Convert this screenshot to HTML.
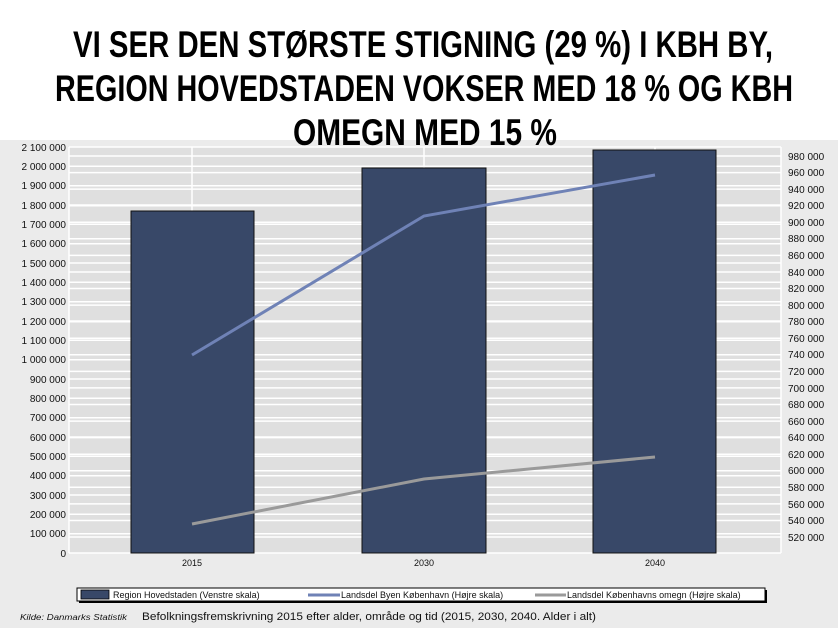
<!DOCTYPE html>
<html><head><meta charset="utf-8"><style>
html,body{margin:0;padding:0;background:#fff;}
svg{display:block;}
</style></head><body>
<svg width="838" height="628" xmlns="http://www.w3.org/2000/svg" font-family="Liberation Sans, Arial, sans-serif">
<rect x="0" y="0" width="838" height="628" fill="#fff"/>
<rect x="0" y="140" width="838" height="488" fill="#ebebeb"/>
<rect x="69" y="147" width="712" height="406" fill="#dfdfdf"/>
<g stroke="#fff" stroke-width="1.5">
<line x1="69" x2="781" y1="147" y2="147"/><line x1="69" x2="781" y1="166.3" y2="166.3"/><line x1="69" x2="781" y1="185.7" y2="185.7"/><line x1="69" x2="781" y1="205" y2="205"/><line x1="69" x2="781" y1="224.3" y2="224.3"/><line x1="69" x2="781" y1="243.7" y2="243.7"/><line x1="69" x2="781" y1="263" y2="263"/><line x1="69" x2="781" y1="282.3" y2="282.3"/><line x1="69" x2="781" y1="301.7" y2="301.7"/><line x1="69" x2="781" y1="321" y2="321"/><line x1="69" x2="781" y1="340.3" y2="340.3"/><line x1="69" x2="781" y1="359.7" y2="359.7"/><line x1="69" x2="781" y1="379" y2="379"/><line x1="69" x2="781" y1="398.3" y2="398.3"/><line x1="69" x2="781" y1="417.7" y2="417.7"/><line x1="69" x2="781" y1="437" y2="437"/><line x1="69" x2="781" y1="456.3" y2="456.3"/><line x1="69" x2="781" y1="475.7" y2="475.7"/><line x1="69" x2="781" y1="495" y2="495"/><line x1="69" x2="781" y1="514.3" y2="514.3"/><line x1="69" x2="781" y1="533.7" y2="533.7"/>
<line x1="69" x2="781" y1="156" y2="156"/><line x1="69" x2="781" y1="172.6" y2="172.6"/><line x1="69" x2="781" y1="189.1" y2="189.1"/><line x1="69" x2="781" y1="205.7" y2="205.7"/><line x1="69" x2="781" y1="222.3" y2="222.3"/><line x1="69" x2="781" y1="238.8" y2="238.8"/><line x1="69" x2="781" y1="255.4" y2="255.4"/><line x1="69" x2="781" y1="272" y2="272"/><line x1="69" x2="781" y1="288.5" y2="288.5"/><line x1="69" x2="781" y1="305.1" y2="305.1"/><line x1="69" x2="781" y1="321.7" y2="321.7"/><line x1="69" x2="781" y1="338.2" y2="338.2"/><line x1="69" x2="781" y1="354.8" y2="354.8"/><line x1="69" x2="781" y1="371.4" y2="371.4"/><line x1="69" x2="781" y1="387.9" y2="387.9"/><line x1="69" x2="781" y1="404.5" y2="404.5"/><line x1="69" x2="781" y1="421.1" y2="421.1"/><line x1="69" x2="781" y1="437.6" y2="437.6"/><line x1="69" x2="781" y1="454.2" y2="454.2"/><line x1="69" x2="781" y1="470.8" y2="470.8"/><line x1="69" x2="781" y1="487.3" y2="487.3"/><line x1="69" x2="781" y1="503.9" y2="503.9"/><line x1="69" x2="781" y1="520.5" y2="520.5"/><line x1="69" x2="781" y1="537" y2="537"/>
<line x1="192" x2="192" y1="147" y2="553"/><line x1="424" x2="424" y1="147" y2="553"/><line x1="655" x2="655" y1="147" y2="553"/>
<line x1="69" x2="69" y1="147" y2="553"/><line x1="781" x2="781" y1="147" y2="553"/><line x1="69" x2="781" y1="553" y2="553"/>
</g>
<g fill="#384868" stroke="#111" stroke-width="1">
<rect x="131" y="211" width="123" height="342"/>
<rect x="362" y="168" width="124" height="385"/>
<rect x="593" y="150" width="123" height="403"/>
</g>
<polyline points="192,355 424,216 655,175" fill="none" stroke="#6f82b6" stroke-width="3"/>
<polyline points="192,524 424,479 655,457" fill="none" stroke="#9a9a9a" stroke-width="3"/>
<g font-size="10" fill="#111" text-anchor="end">
<text x="66" y="151">2 100 000</text><text x="66" y="170">2 000 000</text><text x="66" y="189">1 900 000</text><text x="66" y="209">1 800 000</text><text x="66" y="228">1 700 000</text><text x="66" y="247">1 600 000</text><text x="66" y="267">1 500 000</text><text x="66" y="286">1 400 000</text><text x="66" y="305">1 300 000</text><text x="66" y="325">1 200 000</text><text x="66" y="344">1 100 000</text><text x="66" y="363">1 000 000</text><text x="66" y="383">900 000</text><text x="66" y="402">800 000</text><text x="66" y="421">700 000</text><text x="66" y="441">600 000</text><text x="66" y="460">500 000</text><text x="66" y="479">400 000</text><text x="66" y="499">300 000</text><text x="66" y="518">200 000</text><text x="66" y="537">100 000</text><text x="66" y="557">0</text>
</g>
<g font-size="10" fill="#111">
<text x="788" y="160">980 000</text><text x="788" y="176">960 000</text><text x="788" y="193">940 000</text><text x="788" y="209">920 000</text><text x="788" y="226">900 000</text><text x="788" y="242">880 000</text><text x="788" y="259">860 000</text><text x="788" y="276">840 000</text><text x="788" y="292">820 000</text><text x="788" y="309">800 000</text><text x="788" y="325">780 000</text><text x="788" y="342">760 000</text><text x="788" y="358">740 000</text><text x="788" y="375">720 000</text><text x="788" y="392">700 000</text><text x="788" y="408">680 000</text><text x="788" y="425">660 000</text><text x="788" y="441">640 000</text><text x="788" y="458">620 000</text><text x="788" y="474">600 000</text><text x="788" y="491">580 000</text><text x="788" y="508">560 000</text><text x="788" y="524">540 000</text><text x="788" y="541">520 000</text>
</g>
<g font-size="9" fill="#111" text-anchor="middle">
<text x="192" y="566">2015</text><text x="424" y="566">2030</text><text x="655" y="566">2040</text>
</g>
<rect x="79" y="590" width="688" height="13" fill="#000"/>
<rect x="77" y="588" width="688" height="13" fill="#fff" stroke="#000" stroke-width="1"/>
<rect x="81" y="590" width="28" height="9" fill="#384868" stroke="#000" stroke-width="0.8"/>
<line x1="308" x2="340" y1="595" y2="595" stroke="#6f82b6" stroke-width="3"/>
<line x1="535" x2="566" y1="595" y2="595" stroke="#9a9a9a" stroke-width="3"/>
<g font-size="9" fill="#111">
<text x="113" y="598">Region Hovedstaden (Venstre skala)</text>
<text x="341" y="598">Landsdel Byen København (Højre skala)</text>
<text x="567" y="598">Landsdel Københavns omegn (Højre skala)</text>
</g>
<text x="20" y="620" font-size="8" font-style="italic" fill="#111" textLength="107" lengthAdjust="spacingAndGlyphs">Kilde: Danmarks Statistik</text>
<text x="142" y="620" font-size="11" fill="#111" textLength="454" lengthAdjust="spacingAndGlyphs">Befolkningsfremskrivning 2015 efter alder, område og tid (2015, 2030, 2040. Alder i alt)</text>
<g font-family="Liberation Sans Narrow, Liberation Sans, sans-serif" font-weight="bold" font-size="37" fill="#000">
<text x="73" y="57" textLength="700" lengthAdjust="spacingAndGlyphs">VI SER DEN STØRSTE STIGNING (29 %) I KBH BY,</text>
<text x="55" y="101" textLength="738" lengthAdjust="spacingAndGlyphs">REGION HOVEDSTADEN VOKSER MED 18 % OG KBH</text>
<text x="293" y="145" textLength="264" lengthAdjust="spacingAndGlyphs">OMEGN MED 15 %</text>
</g>
</svg>
</body></html>
